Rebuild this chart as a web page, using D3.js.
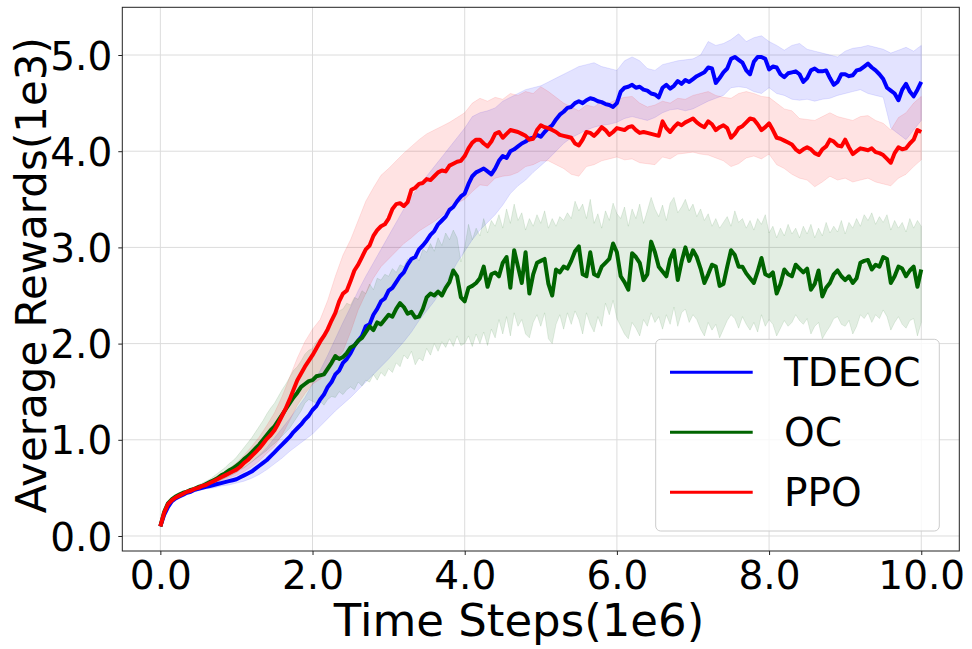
<!DOCTYPE html>
<html>
<head>
<meta charset="utf-8">
<script src="https://cdn.jsdelivr.net/npm/d3@7"></script>
<style>
  body { margin: 0; background: #fff; }
  text { font-family: "DejaVu Sans", sans-serif; fill: #000; }
</style>
</head>
<body>
<svg id="chart" width="972" height="649"></svg>
<script>
// time axis (1e6 steps): bands logged every 0.1, means every 0.05
const stepsCoarse = d3.range(101).map(i => i / 10);
const stepsFine = d3.range(201).map(i => i / 20);

// TDEOC (blue)
const tdeocMean = [0.10,0.22,0.30,0.36,0.39,0.41,0.43,0.45,0.46,0.48,
  0.49,0.50,0.51,0.52,0.53,0.54,0.55,0.56,0.57,0.58,
  0.59,0.61,0.63,0.65,0.67,0.70,0.73,0.76,0.79,0.83,
  0.87,0.91,0.95,0.99,1.03,1.08,1.12,1.16,1.21,1.25,
  1.31,1.35,1.42,1.47,1.55,1.60,1.68,1.72,1.80,1.84,
  1.90,1.98,2.03,2.08,2.18,2.20,2.30,2.36,2.44,2.47,
  2.55,2.58,2.64,2.70,2.74,2.82,2.88,2.90,2.98,3.02,
  3.07,3.13,3.17,3.24,3.28,3.32,3.39,3.42,3.48,3.53,
  3.56,3.66,3.74,3.78,3.80,3.82,3.79,3.76,3.82,3.90,
  3.95,3.93,4.00,4.02,4.05,4.08,4.10,4.13,4.14,4.17,
  4.15,4.20,4.24,4.27,4.33,4.38,4.41,4.45,4.46,4.50,
  4.52,4.50,4.53,4.55,4.54,4.52,4.51,4.49,4.48,4.46,
  4.50,4.62,4.66,4.67,4.69,4.66,4.67,4.64,4.63,4.60,
  4.59,4.56,4.66,4.69,4.65,4.68,4.73,4.70,4.74,4.72,
  4.75,4.78,4.80,4.82,4.87,4.86,4.71,4.76,4.82,4.86,
  4.96,4.98,4.95,4.92,4.84,4.80,4.93,4.98,4.98,4.96,
  4.85,4.88,4.87,4.80,4.77,4.81,4.82,4.83,4.80,4.72,
  4.76,4.84,4.86,4.83,4.83,4.84,4.76,4.69,4.72,4.80,
  4.80,4.78,4.79,4.84,4.85,4.88,4.91,4.87,4.84,4.80,
  4.75,4.66,4.63,4.60,4.53,4.64,4.70,4.62,4.57,4.64,4.72];
const tdeocUpper = [0.10,0.31,0.40,0.44,0.47,0.50,0.53,0.56,0.59,0.62,
  0.66,0.71,0.77,0.84,0.92,1.02,1.12,1.22,1.33,1.44,
  1.58,1.72,1.88,2.05,2.22,2.38,2.55,2.70,2.84,2.98,
  3.12,3.26,3.40,3.52,3.64,3.74,3.84,3.94,4.04,4.14,
  4.24,4.36,4.40,4.42,4.45,4.52,4.56,4.60,4.64,4.66,
  4.68,4.72,4.76,4.80,4.84,4.88,4.90,4.92,4.88,4.86,
  4.84,4.94,4.98,4.94,4.86,4.84,4.90,4.92,4.94,4.95,
  4.96,5.00,5.14,5.10,5.12,5.16,5.22,5.14,5.18,5.20,
  5.14,5.10,5.05,5.10,5.12,5.06,5.04,5.02,5.00,4.98,
  5.04,5.07,5.08,5.10,5.08,5.06,5.02,5.05,5.08,5.04,5.10];
const tdeocLower = [0.10,0.29,0.38,0.42,0.45,0.47,0.49,0.50,0.52,0.53,
  0.55,0.57,0.60,0.64,0.69,0.75,0.81,0.88,0.94,1.00,
  1.06,1.14,1.22,1.30,1.37,1.44,1.52,1.60,1.68,1.76,
  1.84,1.93,2.02,2.12,2.24,2.34,2.44,2.56,2.70,2.84,
  2.96,3.08,3.18,3.26,3.34,3.44,3.56,3.64,3.70,3.78,
  3.85,3.92,4.00,4.08,4.14,4.18,4.22,4.25,4.27,4.28,
  4.30,4.34,4.36,4.34,4.32,4.35,4.40,4.43,4.44,4.42,
  4.44,4.48,4.52,4.55,4.58,4.66,4.67,4.66,4.62,4.60,
  4.66,4.60,4.58,4.54,4.53,4.54,4.52,4.54,4.55,4.58,
  4.60,4.62,4.64,4.60,4.58,4.56,4.24,4.18,4.12,4.22,4.32];

// OC (green)
const ocMean = [0.10,0.25,0.34,0.38,0.41,0.43,0.45,0.46,0.48,0.49,
  0.51,0.52,0.54,0.56,0.58,0.60,0.63,0.65,0.68,0.70,
  0.73,0.76,0.80,0.83,0.87,0.91,0.95,1.00,1.05,1.10,
  1.14,1.20,1.26,1.32,1.38,1.44,1.49,1.55,1.58,1.61,
  1.62,1.66,1.67,1.68,1.74,1.80,1.87,1.84,1.86,1.90,
  1.96,1.98,2.03,2.06,2.12,2.18,2.14,2.22,2.20,2.25,
  2.30,2.28,2.36,2.42,2.38,2.31,2.33,2.27,2.28,2.36,
  2.48,2.52,2.50,2.54,2.50,2.58,2.64,2.76,2.70,2.48,
  2.44,2.58,2.60,2.63,2.68,2.80,2.59,2.72,2.74,2.70,
  2.84,2.90,2.58,2.97,2.80,2.63,2.95,2.52,2.72,2.84,
  2.86,2.88,2.62,2.50,2.77,2.74,2.80,2.78,2.86,2.96,
  3.01,2.72,2.70,2.95,2.72,2.70,2.80,2.84,2.88,3.04,
  2.95,2.70,2.64,2.56,2.94,2.90,2.84,2.66,2.72,3.06,
  2.95,2.80,2.75,2.70,2.88,2.97,2.66,2.85,3.00,2.86,
  2.97,2.90,2.78,2.63,2.72,2.82,2.80,2.60,2.62,2.80,
  2.97,2.92,2.80,2.80,2.73,2.68,2.63,2.75,2.89,2.72,
  2.70,2.74,2.52,2.62,2.77,2.72,2.70,2.82,2.78,2.74,
  2.78,2.56,2.62,2.76,2.49,2.58,2.63,2.72,2.76,2.70,
  2.66,2.70,2.63,2.68,2.84,2.86,2.87,2.77,2.82,2.80,
  2.90,2.88,2.63,2.70,2.80,2.78,2.70,2.76,2.80,2.59,2.77];
const ocUpper = [0.10,0.26,0.35,0.39,0.42,0.44,0.46,0.48,0.50,0.51,
  0.53,0.55,0.57,0.59,0.62,0.65,0.68,0.71,0.75,0.78,
  0.82,0.87,0.92,0.97,1.02,1.08,1.14,1.20,1.27,1.33,
  1.38,1.45,1.52,1.58,1.65,1.72,1.76,1.82,1.89,1.93,
  1.95,2.02,2.06,2.10,2.15,2.22,2.30,2.34,2.36,2.42,
  2.40,2.48,2.46,2.55,2.52,2.62,2.56,2.68,2.66,2.72,
  2.70,2.78,2.74,2.82,2.80,2.88,2.84,2.92,2.86,2.98,
  2.95,3.04,2.96,3.10,3.02,3.15,3.08,3.18,3.10,2.85,
  3.00,3.24,3.08,3.20,3.12,3.30,3.15,3.28,3.22,3.34,
  3.20,3.40,3.25,3.45,3.28,3.36,3.18,3.30,3.22,3.34,
  3.25,3.38,3.20,3.30,3.22,3.32,3.28,3.36,3.30,3.48,
  3.38,3.45,3.30,3.50,3.25,3.35,3.20,3.38,3.28,3.46,
  3.35,3.30,3.42,3.22,3.40,3.30,3.45,3.25,3.38,3.52,
  3.40,3.32,3.44,3.28,3.46,3.52,3.36,3.42,3.50,3.38,
  3.45,3.32,3.40,3.28,3.35,3.22,3.30,3.20,3.26,3.32,
  3.22,3.38,3.26,3.30,3.20,3.28,3.18,3.30,3.24,3.34,
  3.15,3.22,3.10,3.20,3.12,3.24,3.14,3.20,3.10,3.22,
  3.14,3.24,3.10,3.20,3.12,3.26,3.15,3.22,3.16,3.28,
  3.14,3.26,3.20,3.30,3.22,3.34,3.28,3.36,3.24,3.32,
  3.26,3.34,3.18,3.28,3.20,3.26,3.16,3.30,3.20,3.28,3.22];
const ocLower = [0.10,0.24,0.33,0.37,0.40,0.42,0.44,0.45,0.46,0.47,
  0.49,0.50,0.51,0.53,0.55,0.56,0.58,0.60,0.62,0.64,
  0.66,0.69,0.71,0.74,0.77,0.80,0.83,0.86,0.89,0.93,
  0.96,1.00,1.04,1.08,1.12,1.18,1.24,1.30,1.38,1.42,
  1.40,1.38,1.40,1.36,1.42,1.45,1.44,1.50,1.47,1.52,
  1.55,1.52,1.60,1.56,1.62,1.60,1.68,1.62,1.70,1.66,
  1.74,1.70,1.80,1.76,1.88,1.84,1.92,1.78,1.85,1.82,
  1.95,1.88,2.00,1.92,2.02,1.96,2.05,1.97,2.08,1.98,
  2.00,2.08,1.97,2.10,2.00,2.12,1.98,2.15,2.06,2.25,
  2.10,2.28,2.08,2.32,2.18,2.25,2.10,2.06,2.22,2.30,
  2.18,2.32,2.05,2.00,2.20,2.30,2.15,2.32,2.20,2.34,
  2.25,2.10,2.32,2.20,2.12,2.28,2.18,2.42,2.30,2.45,
  2.26,2.18,2.10,2.05,2.22,2.16,2.08,2.25,2.18,2.32,
  2.22,2.28,2.15,2.30,2.20,2.38,2.18,2.32,2.36,2.22,
  2.30,2.25,2.15,2.08,2.22,2.14,2.20,2.06,2.15,2.24,
  2.30,2.26,2.16,2.28,2.20,2.14,2.22,2.12,2.30,2.18,
  2.25,2.20,2.08,2.16,2.24,2.18,2.22,2.30,2.24,2.20,
  2.26,2.10,2.18,2.22,2.05,2.12,2.18,2.26,2.28,2.20,
  2.18,2.24,2.10,2.18,2.30,2.26,2.32,2.22,2.30,2.26,
  2.35,2.28,2.14,2.22,2.28,2.20,2.16,2.24,2.26,2.08,2.22];

// PPO (red)
const ppoMean = [0.10,0.24,0.33,0.37,0.40,0.42,0.44,0.46,0.47,0.49,
  0.50,0.52,0.53,0.55,0.57,0.59,0.61,0.63,0.65,0.67,
  0.69,0.72,0.76,0.79,0.83,0.87,0.91,0.96,1.01,1.05,
  1.10,1.17,1.25,1.33,1.42,1.52,1.62,1.69,1.76,1.82,
  1.88,1.95,2.02,2.08,2.15,2.24,2.32,2.44,2.52,2.55,
  2.65,2.76,2.82,2.90,2.98,3.02,3.12,3.18,3.22,3.24,
  3.30,3.40,3.45,3.46,3.43,3.47,3.60,3.62,3.66,3.67,
  3.71,3.70,3.74,3.78,3.80,3.79,3.85,3.87,3.89,3.90,
  3.95,4.03,4.09,4.12,4.12,4.08,4.05,4.10,4.18,4.20,
  4.14,4.18,4.22,4.21,4.20,4.18,4.16,4.12,4.13,4.22,
  4.27,4.25,4.24,4.22,4.20,4.17,4.16,4.15,4.14,4.08,
  4.06,4.12,4.20,4.19,4.16,4.20,4.25,4.22,4.17,4.20,
  4.24,4.23,4.22,4.25,4.26,4.22,4.19,4.20,4.19,4.18,
  4.17,4.16,4.31,4.24,4.20,4.25,4.29,4.27,4.30,4.32,
  4.34,4.30,4.27,4.25,4.31,4.28,4.22,4.25,4.27,4.24,
  4.14,4.18,4.24,4.26,4.30,4.34,4.33,4.28,4.22,4.25,
  4.29,4.22,4.14,4.13,4.11,4.09,4.07,4.02,3.99,4.02,
  4.04,4.02,3.98,3.96,4.02,4.05,4.12,4.10,4.06,4.05,
  4.12,4.04,3.97,4.00,4.03,4.02,4.01,4.03,3.99,3.98,
  3.96,3.92,3.88,3.98,4.04,4.02,4.03,4.08,4.12,4.22,4.20];
const ppoUpper = [0.10,0.34,0.41,0.45,0.48,0.52,0.55,0.60,0.65,0.70,
  0.76,0.84,0.93,1.03,1.15,1.28,1.45,1.65,1.85,2.02,
  2.15,2.25,2.45,2.70,2.92,3.08,3.28,3.48,3.62,3.75,
  3.82,3.90,3.98,4.05,4.12,4.18,4.22,4.26,4.30,4.35,
  4.40,4.50,4.55,4.52,4.56,4.54,4.60,4.58,4.62,4.60,
  4.67,4.62,4.56,4.50,4.46,4.42,4.48,4.46,4.52,4.50,
  4.54,4.56,4.57,4.50,4.46,4.48,4.52,4.50,4.55,4.54,
  4.58,4.60,4.62,4.58,4.56,4.55,4.60,4.62,4.60,4.57,
  4.56,4.50,4.44,4.42,4.34,4.33,4.32,4.36,4.40,4.36,
  4.34,4.32,4.36,4.37,4.32,4.29,4.22,4.35,4.40,4.50,4.57];
const ppoLower = [0.10,0.32,0.39,0.43,0.46,0.48,0.51,0.54,0.57,0.60,
  0.63,0.67,0.72,0.78,0.86,0.93,1.05,1.20,1.36,1.48,
  1.58,1.63,1.70,1.82,1.92,2.12,2.35,2.52,2.68,2.80,
  2.88,2.96,3.04,3.10,3.17,3.22,3.27,3.33,3.40,3.46,
  3.50,3.58,3.65,3.64,3.72,3.74,3.75,3.78,3.84,3.86,
  3.90,3.90,3.86,3.82,3.76,3.74,3.84,3.86,3.90,3.92,
  3.94,3.91,3.92,3.88,3.87,3.86,3.94,3.92,3.97,3.98,
  3.99,3.97,3.96,3.93,3.90,3.84,3.87,3.93,3.95,3.92,
  3.97,3.86,3.82,3.76,3.72,3.70,3.63,3.68,3.74,3.70,
  3.72,3.68,3.70,3.72,3.68,3.66,3.64,3.72,3.76,3.84,3.91];

const xTicks = [0, 2, 4, 6, 8, 10];
const yTicks = [0, 1, 2, 3, 4, 5];
const legendNames = ["TDEOC", "OC", "PPO"];

const series = [
  {name: "TDEOC", color: "#0000ff", tBand: stepsCoarse, lo: tdeocLower, hi: tdeocUpper, mean: tdeocMean},
  {name: "OC", color: "#006400", tBand: stepsFine, lo: ocLower, hi: ocUpper, mean: ocMean},
  {name: "PPO", color: "#ff0000", tBand: stepsCoarse, lo: ppoLower, hi: ppoUpper, mean: ppoMean}
];

const svg = d3.select("#chart");
const plotL = 122.3, plotR = 959.3, plotT = 7.3, plotB = 551;

const x = d3.scaleLinear().domain([-0.5, 10.5]).range([plotL, plotR]);
const y = d3.scaleLinear().domain([-0.156, 5.496]).range([plotB, plotT]);

// grid
const grid = svg.append("g");
grid.selectAll(".gx").data(xTicks).enter().append("line")
  .attr("x1", d => x(d)).attr("x2", d => x(d))
  .attr("y1", plotT).attr("y2", plotB)
  .attr("stroke", "#dcdcdc").attr("stroke-width", 1);
grid.selectAll(".gy").data(yTicks).enter().append("line")
  .attr("x1", plotL).attr("x2", plotR)
  .attr("y1", d => y(d)).attr("y2", d => y(d))
  .attr("stroke", "#dcdcdc").attr("stroke-width", 1);

// bands
const area = d3.area()
  .x(d => x(d.t)).y0(d => y(d.lo)).y1(d => y(d.hi));
series.forEach(s => {
  const pts = s.tBand.map((t, i) => ({t: t, lo: s.lo[i], hi: s.hi[i]}));
  svg.append("path")
    .datum(pts)
    .attr("d", area)
    .attr("fill", s.color).attr("fill-opacity", 0.11)
    .attr("stroke", s.color).attr("stroke-opacity", 0.1).attr("stroke-width", 1);
});

// mean lines
const line = d3.line().x(d => x(d.t)).y(d => y(d.v));
series.forEach(s => {
  const pts = stepsFine.map((t, i) => ({t: t, v: s.mean[i]}));
  svg.append("path")
    .datum(pts)
    .attr("d", line)
    .attr("fill", "none")
    .attr("stroke", s.color)
    .attr("stroke-width", 4)
    .attr("stroke-linejoin", "round");
});

// axes
const xAxis = svg.append("g").attr("transform", `translate(0,${plotB})`)
  .call(d3.axisBottom(x).tickValues(xTicks).tickFormat(d3.format(".1f")).tickSizeOuter(0).tickSize(4).tickPadding(6));
const yAxis = svg.append("g").attr("transform", `translate(${plotL},0)`)
  .call(d3.axisLeft(y).tickValues(yTicks).tickFormat(d3.format(".1f")).tickSizeOuter(0).tickSize(4).tickPadding(6));
[xAxis, yAxis].forEach(a => {
  a.select(".domain").remove();
  a.selectAll(".tick line").attr("stroke", "#222");
  a.selectAll(".tick text").style("font-size", "39px").attr("fill", "#000");
});
yAxis.selectAll(".tick text").attr("dy", "0.36em");

// frame
svg.append("rect")
  .attr("x", plotL).attr("y", plotT)
  .attr("width", plotR - plotL).attr("height", plotB - plotT)
  .attr("fill", "none").attr("stroke", "#222").attr("stroke-width", 1);

// axis labels
svg.append("text")
  .attr("x", 519).attr("y", 636)
  .attr("text-anchor", "middle")
  .style("font-size", "45px")
  .text("Time Steps(1e6)");
svg.append("text")
  .attr("transform", `translate(46,${(plotT + plotB) / 2 - 4}) rotate(-90)`)
  .attr("text-anchor", "middle")
  .style("font-size", "42px")
  .text("Average Rewards(1e3)");

// legend
const lg = svg.append("g");
lg.append("rect")
  .attr("x", 655.7).attr("y", 339.3)
  .attr("width", 283.6).attr("height", 191.7)
  .attr("rx", 5).attr("ry", 5)
  .attr("fill", "#fff").attr("fill-opacity", 0.8)
  .attr("stroke", "#cccccc").attr("stroke-width", 1);
legendNames.forEach((n, i) => {
  const s = series.find(d => d.name === n);
  const cy = 372.3 + i * 60;
  lg.append("line")
    .attr("x1", 670).attr("x2", 752.7)
    .attr("y1", cy).attr("y2", cy)
    .attr("stroke", s.color).attr("stroke-width", 3);
  lg.append("text")
    .attr("x", 784).attr("y", cy)
    .attr("dy", "0.36em")
    .style("font-size", "39px")
    .text(n);
});
</script>
</body>
</html>
